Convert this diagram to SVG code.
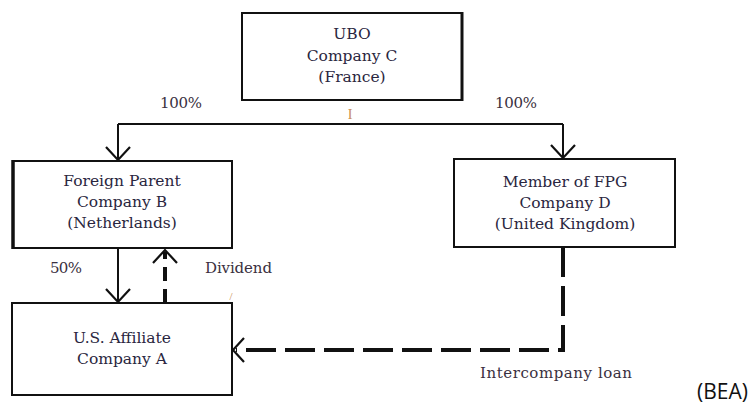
<svg xmlns="http://www.w3.org/2000/svg" width="756" height="411" viewBox="0 0 756 411">
<defs>
<style>
.box{fill:#fff;stroke:#111;stroke-width:2}
.t{font-family:"DejaVu Serif","Liberation Serif",serif;font-size:15.5px;fill:#2a2640;text-anchor:middle}
.l{font-family:"DejaVu Serif","Liberation Serif",serif;font-size:15px;fill:#3a3040}
.solid{fill:none;stroke:#111;stroke-width:2}
.dash{fill:none;stroke:#111;stroke-width:4}
.ah{fill:none;stroke:#111;stroke-width:2.2}
</style>
</defs>
<rect width="756" height="411" fill="#fff"/>
<g id="connectors">
<path class="solid" d="M118 124 H563 M118 124 V160 M563 124 V158"/>
<path class="ah" d="M106 147 L118 160 L130 147 M551 145 L563 158 L575 145"/>
<path class="solid" d="M118 248 V302"/>
<path class="ah" d="M106 289 L118 302 L130 289"/>
<path class="dash" d="M165 303 V252" stroke-dasharray="14,8"/>
<path class="ah" d="M153 263 L165 250 L177 263"/>
<path class="dash" d="M563 247 V350 H236" stroke-dasharray="30,9"/>
<path class="ah" d="M244 338 L233 350 L244 362"/>
</g>
<g id="nodeC">
<rect class="box" x="242" y="13" width="220" height="87"/>
<line x1="462" y1="12" x2="462" y2="101" stroke="#111" stroke-width="3"/>
<text class="t" x="352" y="39">UBO</text>
<text class="t" x="352" y="61">Company C</text>
<text class="t" x="352" y="82">(France)</text>
</g>
<g id="nodeB">
<rect class="box" x="13" y="161" width="219" height="87"/>
<line x1="13" y1="160" x2="13" y2="249" stroke="#111" stroke-width="3.5"/>
<text class="t" x="122" y="186">Foreign  Parent</text>
<text class="t" x="122" y="207">Company B</text>
<text class="t" x="122" y="228">(Netherlands)</text>
</g>
<g id="nodeD">
<rect class="box" x="454" y="159" width="221" height="88"/>
<text class="t" x="565" y="187">Member of FPG</text>
<text class="t" x="565" y="208">Company D</text>
<text class="t" x="565" y="229">(United Kingdom)</text>
</g>
<g id="nodeA">
<rect class="box" x="12" y="303" width="220" height="92"/>
<text class="t" x="122" y="343">U.S. Affiliate</text>
<text class="t" x="122" y="364">Company A</text>
</g>
<g id="labels">
<text class="l" x="160" y="108" textLength="42">100%</text>
<text class="l" x="495" y="108" textLength="42">100%</text>
<text class="l" x="50" y="273" textLength="32">50%</text>
<text class="l" x="205" y="273" textLength="67">Dividend</text>
<text class="l" x="480" y="378" textLength="152">Intercompany loan</text>
<text x="350" y="119" font-family="Liberation Serif,serif" font-size="14" fill="#c98a50" text-anchor="middle">I</text>
<text x="231" y="300" font-family="Liberation Serif,serif" font-size="11" fill="#c98a50" text-anchor="middle">/</text>
<text x="697" y="399" font-family="Open Sans,Liberation Sans,sans-serif" font-size="21" fill="#111">(BEA)</text>
</g>
</svg>
